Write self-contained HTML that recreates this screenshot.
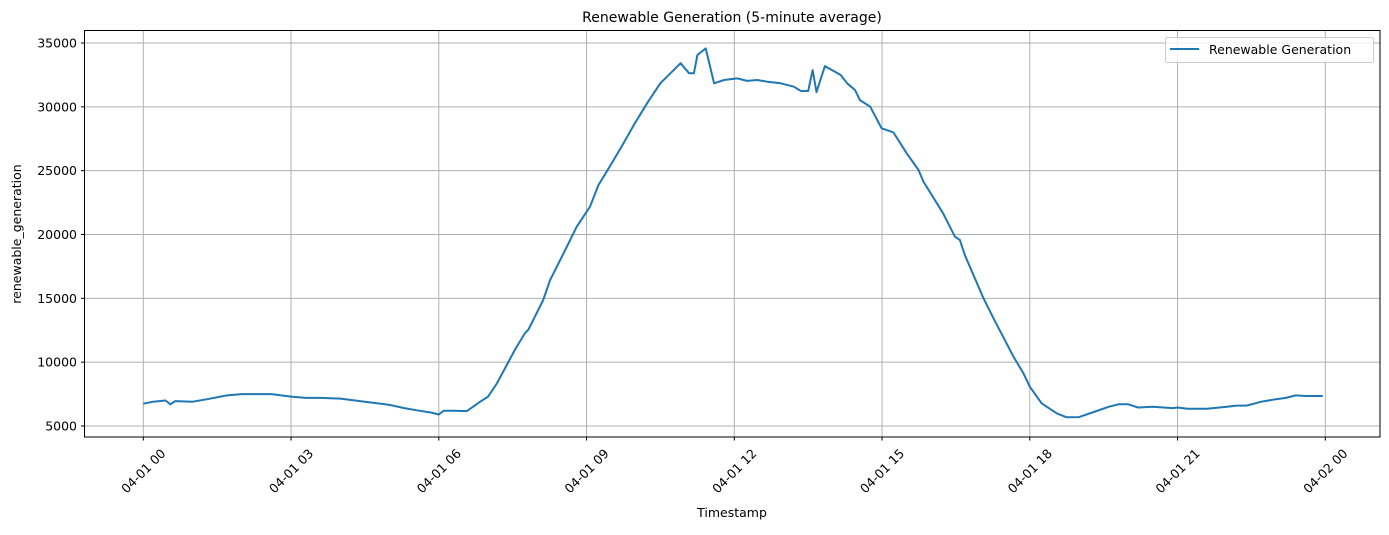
<!DOCTYPE html>
<html><head><meta charset="utf-8"><style>
body{margin:0;background:#fff;}
svg text{font-family:"DejaVu Sans","Liberation Sans",sans-serif;fill:#000;}
</style></head><body>
<svg width="1389" height="530" viewBox="0 0 1389 530">
<g id="grid"></g>
<g id="ticks"></g>
<polyline id="line" fill="none" stroke="#1f77b4" stroke-width="2" stroke-linejoin="round"/>
<rect x="84.5" y="30.5" width="1295.5" height="406.5" fill="none" stroke="#000" stroke-width="1"/>
<text x="732" y="22" font-size="14" text-anchor="middle">Renewable Generation (5-minute average)</text>
<text x="732" y="517" font-size="12.5" text-anchor="middle">Timestamp</text>
<text transform="translate(21,234) rotate(-90)" font-size="12.5" text-anchor="middle">renewable_generation</text>
<g>
<rect x="1165.5" y="37.5" width="208" height="25" rx="2" fill="#fff" fill-opacity="0.8" stroke="#ccc"/>
<line x1="1170" y1="49" x2="1199" y2="49" stroke="#1f77b4" stroke-width="2"/>
<text x="1209" y="54" font-size="12.5">Renewable Generation</text>
</g>
</svg>
<script>
const hours=[0,0.2,0.45,0.55,0.65,1.0,1.3,1.7,2.0,2.3,2.6,3.0,3.3,3.6,4.0,4.5,5.0,5.3,5.6,5.85,6.0,6.1,6.3,6.57,6.84,7.0,7.18,7.38,7.55,7.75,7.82,8.12,8.26,8.6,8.8,9.07,9.24,9.51,9.75,9.98,10.25,10.5,10.91,11.08,11.18,11.25,11.42,11.59,11.79,12.06,12.26,12.46,12.67,12.94,13.21,13.35,13.5,13.59,13.67,13.84,14.16,14.29,14.45,14.55,14.76,14.99,15.23,15.5,15.74,15.84,16.24,16.48,16.58,16.68,17.06,17.26,17.67,17.87,18.0,18.24,18.55,18.75,19.0,19.3,19.6,19.8,20.0,20.2,20.5,20.9,21.0,21.2,21.6,22.0,22.2,22.4,22.7,23.0,23.2,23.4,23.6,23.95];
const values=[6750,6900,7000,6700,6950,6900,7100,7400,7500,7500,7500,7300,7200,7200,7150,6900,6650,6400,6200,6050,5900,6200,6200,6170,6900,7300,8340,9780,11000,12280,12540,14870,16430,19040,20610,22180,23870,25580,27140,28710,30400,31850,33420,32630,32630,34060,34580,31840,32100,32230,32030,32100,31970,31840,31580,31240,31240,32880,31150,33190,32490,31840,31320,30530,30010,28320,28000,26360,25050,24140,21660,19830,19570,18390,15000,13440,10430,9130,8080,6780,5990,5680,5700,6100,6500,6700,6700,6450,6500,6400,6450,6350,6350,6500,6600,6600,6900,7100,7200,7400,7350,7350];
const yTicks=[5000,10000,15000,20000,25000,30000,35000];
const xTickHours=[0,3,6,9,12,15,18,21,24];
const xTickLabels=["04-01 00","04-01 03","04-01 06","04-01 09","04-01 12","04-01 15","04-01 18","04-01 21","04-02 00"];
const NS="http://www.w3.org/2000/svg";
const xs=h=>143.3+h*49.25;
const ys=v=>426-(v-5000)*0.012767;
const grid=document.getElementById('grid'),ticks=document.getElementById('ticks');
function mk(tag,at,parent){const e=document.createElementNS(NS,tag);for(const k in at)e.setAttribute(k,at[k]);parent.appendChild(e);return e;}
yTicks.forEach(v=>{const y=ys(v);
 const g=mk('line',{x1:84.5,x2:1380,y1:y,y2:y,stroke:'#b0b0b0','stroke-width':1},grid);
 
 
 mk('line',{x1:81,x2:84.5,y1:y,y2:y,stroke:'#000'},ticks);
 const t=mk('text',{x:77,y:y+4.5,'font-size':12.5,'text-anchor':'end'},ticks);t.textContent=v;
 
 
});
xTickHours.forEach((h,i)=>{const x=xs(h);
 const g=mk('line',{x1:x,x2:x,y1:30.5,y2:437,stroke:'#b0b0b0','stroke-width':1},grid);
 
 
 mk('line',{x1:x,x2:x,y1:437,y2:440.5,stroke:'#000'},ticks);
 const t=mk('text',{transform:`translate(${x},${471}) rotate(-45)`,y:4.5,'font-size':12.5,'text-anchor':'middle'},ticks);t.textContent=xTickLabels[i];
 
 
});
document.getElementById('line').setAttribute('points',hours.map((h,i)=>xs(h).toFixed(1)+','+ys(values[i]).toFixed(1)).join(' '));
</script>
</body></html>
